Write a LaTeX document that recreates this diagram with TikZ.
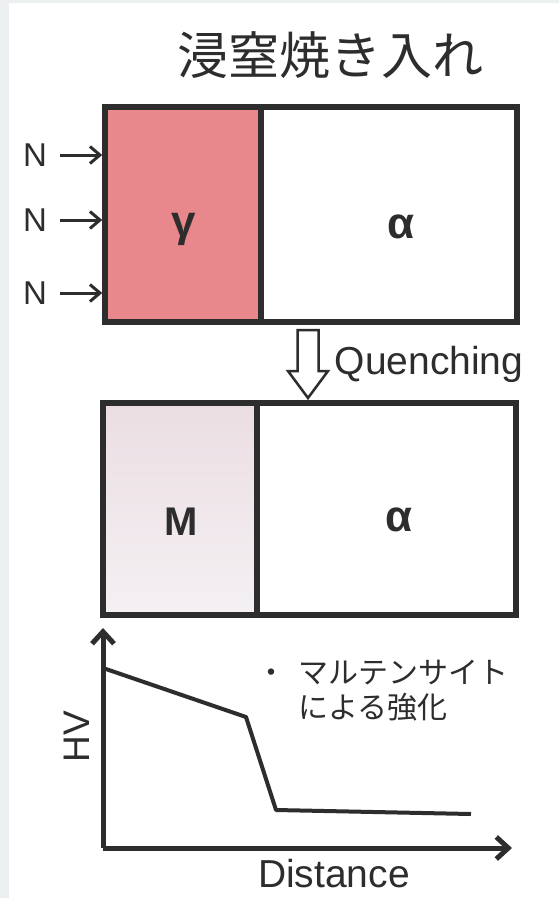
\documentclass[tikz,border=0pt]{standalone}
\usepackage{fontspec}
\setmainfont{Liberation Sans}
\newfontfamily\jpfont{Noto Sans CJK JP}
\usetikzlibrary{arrows.meta}

\definecolor{ink}{RGB}{45,45,45}
\definecolor{gammared}{RGB}{232,136,140}
\definecolor{marttop}{RGB}{235,222,227}
\definecolor{martbot}{RGB}{244,240,243}
\definecolor{frame}{RGB}{237,240,240}

\begin{document}
\begin{tikzpicture}[x=1pt,y=-1pt,
   phase/.style={draw=ink, line width=5.5pt, minimum height=215pt, inner sep=0pt},
   greek/.style={text=ink, font=\fontsize{44}{44}\selectfont\bfseries},
   plain/.style={text=ink, font=\fontsize{39}{39}\selectfont},
   nflux/.style={ink, line width=3pt, -{Straight Barb[length=10pt,width=17pt]}, shorten <=11pt},
   axis/.style={ink, line width=5pt, -{Straight Barb[length=12pt,width=22pt]}}]
   \useasboundingbox (0,0) rectangle (559,898);
   \fill[white] (0,0) rectangle (559,898);
   \fill[frame] (0,0) rectangle (9,898);
   \fill[frame] (0,0) rectangle (559,3);

   \node(title)[text=ink, font=\jpfont\fontsize{51}{51}\selectfont] at (330,55) {浸窒焼き入れ};

   % nitrided layer
   \node(G)[phase, fill=gammared, minimum width=156pt] at (183,214.5) {};
   \node(A1)[phase, minimum width=256pt] at (389,214.5) {};
   \node(gam)[greek] at (184,229) {γ};
   \node(al1)[greek] at (401,227) {α};

   \foreach \i/\y in {1/155,2/220,3/293} {
     \node(N\i)[text=ink, font=\fontsize{33}{33}\selectfont, inner sep=2pt] at (35,\y) {N};
     \draw[nflux] (N\i) -- (N\i -| G.west);
   }

   % quenching
   \draw[ink, line width=2.5pt, line join=miter]
     (297.5,330) -- (318.5,330) -- (318.5,371) -- (328,371) -- (308,398)
     -- (288,371) -- (297.5,371) -- cycle;
   \node(Q)[plain] at (429,364) {Quenching};

   % after quenching
   \node(M)[phase, top color=marttop, bottom color=martbot, minimum width=154pt, minimum height=212pt] at (180,509) {};
   \node(A2)[phase, minimum width=259pt, minimum height=212pt] at (386.5,509) {};
   \node(mar)[text=ink, font=\fontsize{40}{40}\selectfont\bfseries] at (181,522) {M};
   \node(al2)[greek] at (399,520) {α};

   % hardness profile
   \coordinate(O) at (103,848);
   \coordinate(Ytop) at (103,628);
   \coordinate(Xend) at (512,848);
   \draw[axis] (O) -- (Ytop);
   \draw[axis] (O) -- (Xend);
   \draw[ink, line width=4pt, line join=round] (103,668) -- (246,717) -- (276,810) -- (471,814);

   \node(HV)[plain, font=\fontsize{37}{37}\selectfont, rotate=90] at (77,737) {HV};
   \node(D)[plain] at (334,874) {Distance};
   \node(note)[text=ink, anchor=west, inner sep=0pt, font=\jpfont\fontsize{30}{35}\selectfont] at (256,694)
     {\begin{tabular}{@{}l@{\hspace{12pt}}l@{}}・&マルテンサイト\\&による強化\end{tabular}};
\end{tikzpicture}
\end{document}
